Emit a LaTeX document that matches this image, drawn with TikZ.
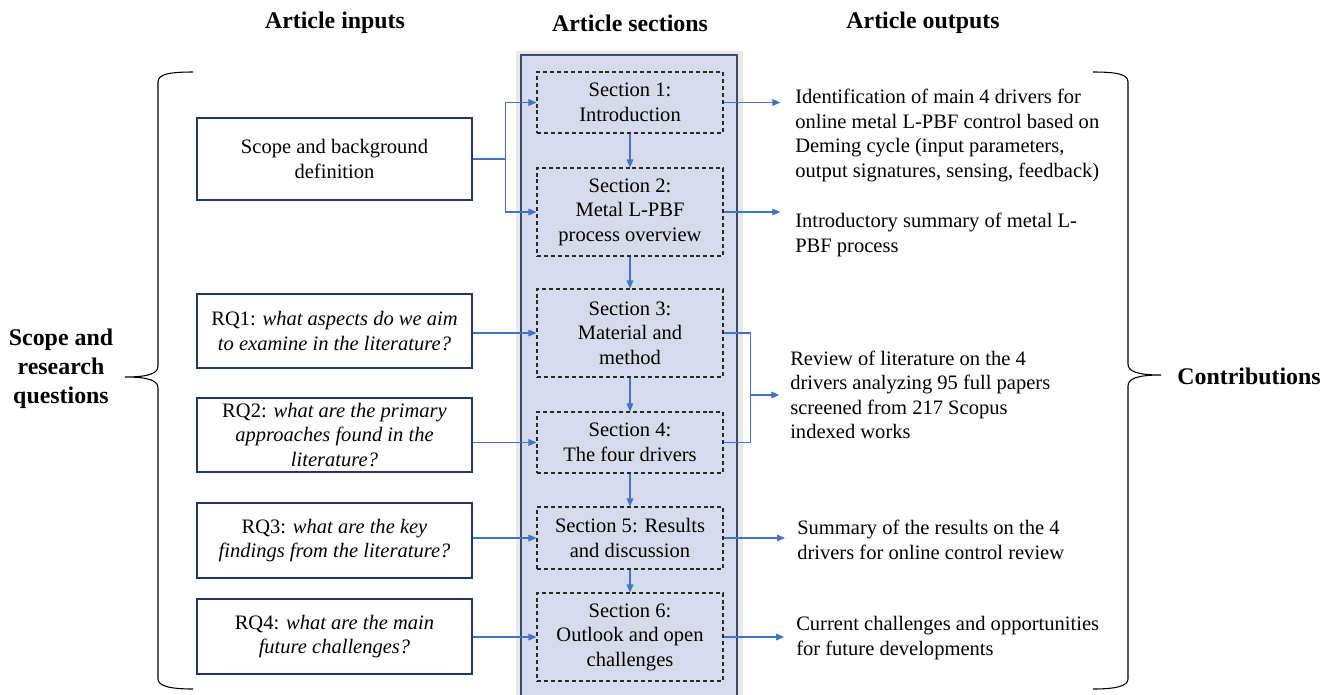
\documentclass[tikz,border=0pt]{standalone}
\usepackage{fontspec}
\setmainfont{Liberation Serif}
\usepackage{xcolor}
\usetikzlibrary{arrows.meta}
\definecolor{arrowblue}{RGB}{68,114,196}
\definecolor{colfill}{RGB}{214,219,236}
\definecolor{colborder}{RGB}{59,72,104}
\definecolor{boxborder}{RGB}{31,56,100}
\definecolor{dashgray}{RGB}{40,40,40}
\newcommand{\bodyfont}{\fontsize{15.4}{18.4}\selectfont}
\newcommand{\headfont}{\fontsize{17.9}{21.8}\selectfont\bfseries}

\begin{document}
\begin{tikzpicture}[x=0.75pt,y=-0.75pt,
    inbox/.style={draw=boxborder,line width=1.3pt,minimum width=206.25pt,align=center,font=\bodyfont,inner sep=0pt},
    secbox/.style={draw=dashgray,dash pattern=on 3pt off 2.2pt,line width=0.8pt,minimum width=139.5pt,align=center,font=\bodyfont,inner sep=0pt},
    outtext/.style={anchor=west,align=left,font=\bodyfont,inner sep=0pt},
    header/.style={font=\headfont,align=center},
    wire/.style={draw=arrowblue,line width=0.8pt},
    link/.style={wire,-{Triangle[length=6pt,width=5pt]}}]
    \useasboundingbox (0,0) rectangle (1333,694);

    % headers
    \node[header] (hin) at (335,23) {Article inputs};
    \node[header] (hsec) at (630,23) {Article sections};
    \node[header] (hout) at (923,23) {Article outputs};

    % middle column
    \fill[black!9] (516,51) rectangle (743,705);
    \draw[colborder,fill=colfill,line width=1.4pt] (521,55) rectangle (737,705);

    % sections
    \node[secbox,minimum height=45.75pt] (s1) at (630,102.5) {Section 1:\\Introduction};
    \node[secbox,minimum height=66pt] (s2) at (630,212) {Section 2:\\Metal L-PBF\\process overview};
    \node[secbox,minimum height=66pt] (s3) at (630,333) {Section 3:\\Material and\\method};
    \node[secbox,minimum height=45.75pt] (s4) at (630,442.5) {Section 4:\\The four drivers};
    \node[secbox,minimum height=46.5pt] (s5) at (630,538) {Section 5: Results\\and discussion};
    \node[secbox,minimum height=66pt] (s6) at (630,637) {Section 6:\\Outlook and open\\challenges};

    % inputs
    \node[inbox,minimum height=61.5pt] (scope) at (334.5,159) {Scope and background\\definition};
    \node[inbox,minimum height=55.5pt] (rq1) at (334.5,331) {RQ1: \textit{what aspects do we aim}\\\textit{to examine in the literature?}};
    \node[inbox,minimum height=55.5pt] (rq2) at (334.5,435) {RQ2: \textit{what are the primary}\\\textit{approaches found in the}\\\textit{literature?}};
    \node[inbox,minimum height=56.25pt] (rq3) at (334.5,540.5) {RQ3: \textit{what are the key}\\\textit{findings from the literature?}};
    \node[inbox,minimum height=56.25pt] (rq4) at (334.5,636.5) {RQ4: \textit{what are the main}\\\textit{future challenges?}};

    % outputs
    \node[outtext] (out1) at (795,135.5) {Identification of main 4 drivers for\\online metal L-PBF control based on\\Deming cycle (input parameters,\\output signatures, sensing, feedback)};
    \node[outtext] (out2) at (795,235) {Introductory summary of metal L-\\PBF process};
    \node[outtext] (out3) at (790,395) {Review of literature on the 4\\drivers analyzing 95 full papers\\screened from 217 Scopus\\indexed works};
    \node[outtext] (out4) at (797,540) {Summary of the results on the 4\\drivers for online control review};
    \node[outtext] (out5) at (796,638) {Current challenges and opportunities\\for future developments};

    % side labels
    \node[header] (lscope) at (61,369) {Scope and\\research\\questions};
    \node[header] (lcontr) at (1249,376) {Contributions};

    % braces
    \draw[line width=0.8pt] (193,72) .. controls (170,72) and (158,74) .. (158,82) -- (158,366)
        .. controls (158,373) and (150,377) .. (125,377) .. controls (150,377) and (158,381) .. (158,388)
        -- (158,679) .. controls (158,686) and (170,689) .. (193,689);
    \draw[line width=0.8pt] (1093,72) .. controls (1116,72) and (1128,74) .. (1128,82) -- (1128,364)
        .. controls (1128,371) and (1136,375) .. (1161,375) .. controls (1136,375) and (1128,379) .. (1128,386)
        -- (1128,679) .. controls (1128,686) and (1116,689) .. (1093,689);

    % section flow
    \draw[link] (s1.south) -- (s2.north);
    \draw[link] (s2.south) -- (s3.north);
    \draw[link] (s3.south) -- (s4.north);
    \draw[link] (s4.south) -- (s5.north);
    \draw[link] (s5.south) -- (s6.north);

    % inputs to sections
    \draw[wire] (scope.east) -- ++(33,0) coordinate (split);
    \draw[link] (split) |- (s1.west);
    \draw[link] (split) |- (s2.west);
    \draw[link] (rq1.east |- s3.west) -- (s3.west);
    \draw[link] (rq2.east |- s4.west) -- (s4.west);
    \draw[link] (rq3.east |- s5.west) -- (s5.west);
    \draw[link] (rq4.east |- s6.west) -- (s6.west);

    % sections to outputs
    \draw[link,shorten >=11pt] (s1.east) -- (s1.east -| out1.west);
    \draw[link,shorten >=11pt] (s2.east) -- (s2.east -| out2.west);
    \draw[wire] (s3.east) -- ++(27,0) coordinate (join) -- (join |- s4.east) -- (s4.east);
    \draw[link,shorten >=8pt] (join |- out3.west) -- (out3.west);
    \draw[link,shorten >=9pt] (s5.east) -- (s5.east -| out4.west);
    \draw[link,shorten >=9pt] (s6.east) -- (s6.east -| out5.west);
\end{tikzpicture}
\end{document}
